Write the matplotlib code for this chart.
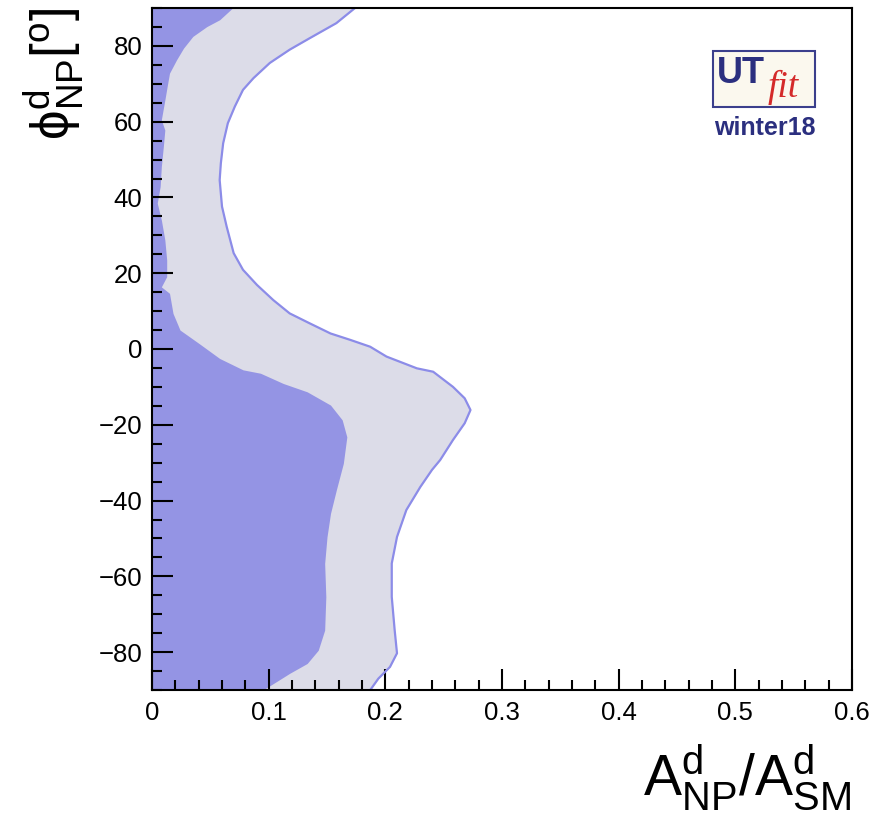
import matplotlib
matplotlib.use("Agg")
import matplotlib.pyplot as plt
from matplotlib.patches import Rectangle
from matplotlib.ticker import MultipleLocator

plt.rcParams['font.family'] = ['Liberation Sans', 'DejaVu Sans']
plt.rcParams['mathtext.fontset'] = 'custom'
plt.rcParams['mathtext.rm'] = 'Liberation Sans'
plt.rcParams['mathtext.it'] = 'Liberation Sans:italic'

# 95% probability region: A_NP/A_SM boundary vs phi_NP
phi_outer = [90, 86.0, 82.0, 79.0, 75.5, 71.5, 68.4, 64.0, 59.6, 54.3, 49.0, 44.6,
             37.6, 32.3, 28.8, 25.3, 20.9, 16.9, 12.9, 9.4, 6.8, 4.1, 2.4, 0.6,
             -2.0, -5.1, -6.0, -10.0, -13.0, -16.1, -19.6, -24.0, -29.3, -31.9,
             -36.4, -42.5, -49.6, -56.6, -65.4, -74.2, -80.3, -83.9, -87.0, -89.6, -90]
a_outer = [0.174, 0.158, 0.135, 0.118, 0.101, 0.087, 0.078, 0.071, 0.065, 0.061,
           0.059, 0.058, 0.060, 0.064, 0.067, 0.070, 0.078, 0.090, 0.104, 0.118,
           0.135, 0.153, 0.170, 0.187, 0.201, 0.227, 0.241, 0.258, 0.268, 0.273,
           0.268, 0.258, 0.247, 0.240, 0.230, 0.218, 0.210, 0.2055, 0.2055, 0.208,
           0.210, 0.204, 0.194, 0.188, 0.187]

# 68% probability region
phi_inner = [90, 86.9, 85.1, 82.5, 79.4, 76.3, 72.8, 69.3, 65.7, 60.5, 57.8, 53.4,
             48.1, 42.9, 38.5, 34.1, 28.8, 23.5, 19.1, 16.4, 14.7, 9.4, 5.0, 3.7,
             1.3, -2.5, -5.5, -6.4, -9.1, -11.3, -14.8, -18.7, -23.2, -30.2, -37.2,
             -43.4, -49.6, -56.6, -65.4, -74.2, -79.5, -83.0, -85.6, -88.3, -90]
a_inner = [0.069, 0.058, 0.047, 0.035, 0.027, 0.021, 0.015, 0.013, 0.011, 0.008,
           0.011, 0.0097, 0.008, 0.007, 0.0045, 0.008, 0.011, 0.0126, 0.0126, 0.008,
           0.015, 0.018, 0.024, 0.030, 0.041, 0.058, 0.078, 0.093, 0.1125, 0.133,
           0.153, 0.163, 0.167, 0.164, 0.158, 0.153, 0.150, 0.148, 0.149, 0.148,
           0.1425, 0.133, 0.118, 0.104, 0.095]

fig = plt.figure(figsize=(8.76, 8.16), dpi=100)
ax = fig.add_axes([152/876, 1-690/816, 700/876, 682/816])

ax.fill_betweenx(phi_outer, 0, a_outer, color='#dcdce8', lw=0)
ax.plot(a_outer, phi_outer, color='#8c8ce8', lw=1.6, solid_joinstyle='round')
ax.fill_betweenx(phi_inner, 0, a_inner, color='#9494e4', lw=0)

ax.set_xlim(0, 0.6)
ax.set_ylim(-90, 90)
ax.xaxis.set_minor_locator(MultipleLocator(0.02))
ax.yaxis.set_major_locator(MultipleLocator(20))
ax.yaxis.set_minor_locator(MultipleLocator(5))
ax.set_xticks([0, 0.1, 0.2, 0.3, 0.4, 0.5, 0.6])
ax.set_xticklabels(['0', '0.1', '0.2', '0.3', '0.4', '0.5', '0.6'])
ax.tick_params(which='both', direction='in', top=False, right=False,
               width=1.5, labelsize=18.5, colors='black')
ax.tick_params(which='major', length=15)
ax.tick_params(axis='y', which='major', pad=7)
ax.tick_params(axis='x', which='major', pad=8)
ax.tick_params(which='minor', length=7.5)
for s in ax.spines.values():
    s.set_linewidth(1.5)

fig.text(851/876, 1-795/816, r'$\mathregular{A^{d}_{NP}/A^{d}_{SM}}$',
         fontsize=41, ha='right', va='baseline')
fig.text(54/876, 1-7/816, r'$\mathregular{\phi^{d}_{NP}[^{o}]}$',
         fontsize=38, rotation=90, ha='center', va='top')

# UTfit logo
logo = Rectangle((713/876, 1-107/816), 102/876, 56/816, transform=fig.transFigure,
                 facecolor='#fbf8ee', edgecolor='#3b3f8c', lw=1.5, zorder=5)
fig.add_artist(logo)
fig.text(717/876, 1-83/816, 'UT', fontsize=26, fontweight='bold', color='#2b2f7f',
         ha='left', va='baseline', zorder=6)
fig.text(768/876, 1-97/816, 'fit', fontsize=27, style='italic', family='Liberation Serif',
         color='#d42a2a', ha='left', va='baseline', zorder=6)
fig.text(765/876, 1-135/816, 'winter18', fontsize=18, fontweight='bold', color='#2b2f7f',
         ha='center', va='baseline')

fig.savefig('out.png', dpi=100, facecolor='white')
